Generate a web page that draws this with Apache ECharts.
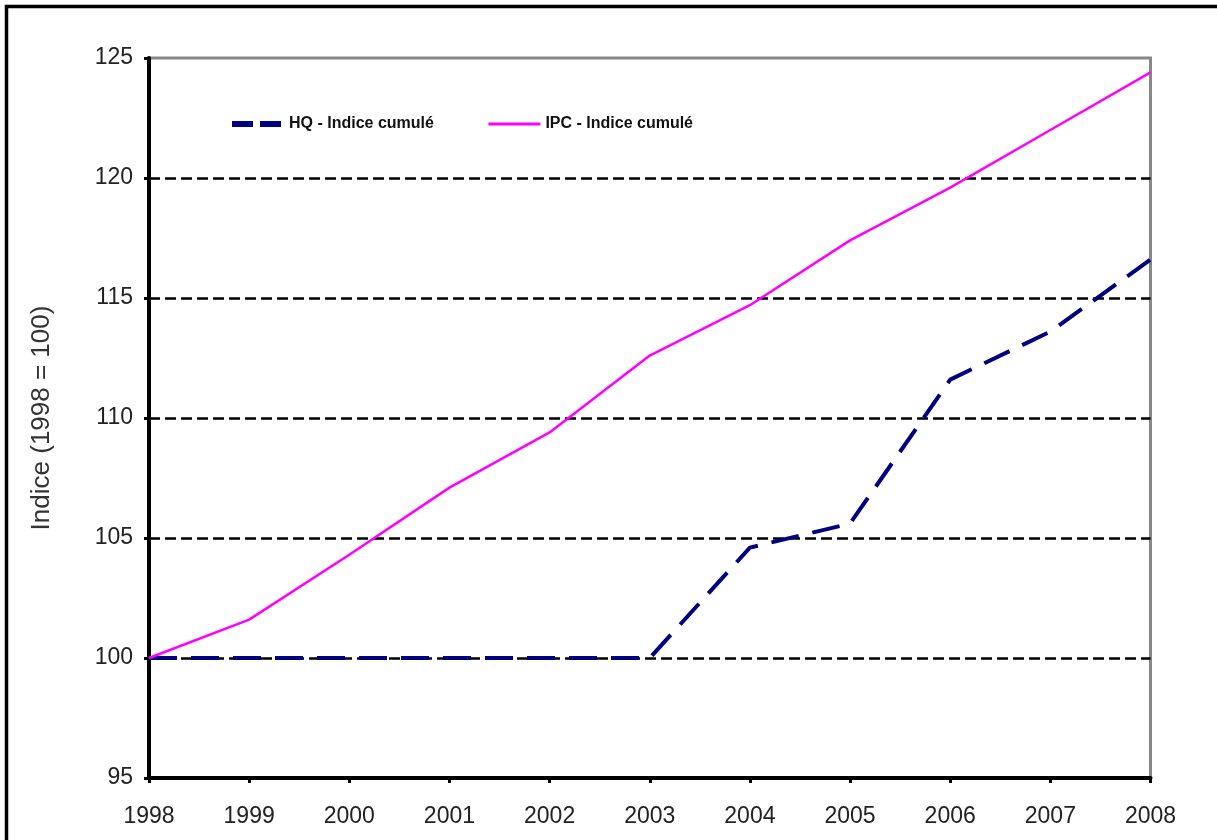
<!DOCTYPE html>
<html>
<head>
<meta charset="utf-8">
<script src="https://cdn.jsdelivr.net/npm/echarts@6/dist/echarts.min.js"></script>
<style>
html,body{margin:0;padding:0;background:#fff;}
#chart{width:1217px;height:840px;}
</style>
</head>
<body>
<div id="chart"></div>
<script>
const years = ['1998','1999','2000','2001','2002','2003','2004','2005','2006','2007','2008'];
const hqValues = [100, 100, 100, 100, 100, 100, 104.6, 105.6, 111.6, 113.6, 116.6];
const ipcValues = [100, 101.6, 104.3, 107.1, 109.4, 112.6, 114.7, 117.4, 119.6, 122.0, 124.4];
const hqName = 'HQ - Indice cumulé';
const ipcName = 'IPC - Indice cumulé';
const yAxisTitle = 'Indice (1998 = 100)';
const yMin = 95, yMax = 125, yStep = 5;

const chart = echarts.init(document.getElementById('chart'), null, {renderer: 'canvas'});
const labelFont = 'Liberation Sans, Arial, sans-serif';
chart.setOption({
  animation: false,
  backgroundColor: '#fff',
  graphic: [{
    type: 'rect',
    shape: {x: 6.5, y: 6.5, width: 1400, height: 1000},
    style: {fill: 'none', stroke: '#000', lineWidth: 3.5},
    silent: true
  }],
  grid: {
    left: 149, right: 66.5, top: 58, bottom: 62,
    show: true, borderColor: '#888', borderWidth: 3, backgroundColor: 'transparent'
  },
  legend: {
    left: 224, top: 111,
    itemWidth: 52, itemHeight: 14, itemGap: 53,
    itemStyle: {opacity: 0},
    textStyle: {fontFamily: labelFont, fontSize: 16, color: '#111', fontWeight: 'bold'},
    data: [
      {name: hqName, lineStyle: {width: 6, type: [21, 7]}},
      {name: ipcName, lineStyle: {width: 3}}
    ]
  },
  xAxis: {
    type: 'category',
    data: years,
    boundaryGap: false,
    axisLine: {lineStyle: {color: '#000', width: 4}},
    axisTick: {show: true, length: 5, inside: false, lineStyle: {color: '#000', width: 3}},
    axisLabel: {fontFamily: labelFont, fontSize: 23, color: '#222', margin: 27},
    splitLine: {show: false}
  },
  yAxis: {
    type: 'value',
    min: yMin, max: yMax, interval: yStep,
    name: yAxisTitle,
    nameLocation: 'middle',
    nameGap: 94,
    nameRotate: 90,
    nameTextStyle: {fontFamily: labelFont, fontSize: 26, color: '#333'},
    axisLine: {show: true, lineStyle: {color: '#000', width: 4}},
    axisTick: {show: true, length: 5, lineStyle: {color: '#000', width: 3}},
    axisLabel: {fontFamily: labelFont, fontSize: 23, color: '#222', margin: 16},
    splitLine: {show: true, lineStyle: {
      color: ['rgba(0,0,0,0)', '#000', '#000', '#000', '#000', '#000', 'rgba(0,0,0,0)'],
      width: 2.5, type: [11, 5]
    }}
  },
  series: [
    {
      name: hqName, type: 'line', data: hqValues, symbol: 'none', smooth: false,
      lineStyle: {color: '#000080', width: 4, type: [28, 14]},
      itemStyle: {color: '#000080'}, z: 3
    },
    {
      name: ipcName, type: 'line', data: ipcValues, symbol: 'none', smooth: false,
      lineStyle: {color: '#ff00ff', width: 2.5},
      itemStyle: {color: '#ff00ff'}, z: 4
    }
  ]
});
</script>
</body>
</html>
